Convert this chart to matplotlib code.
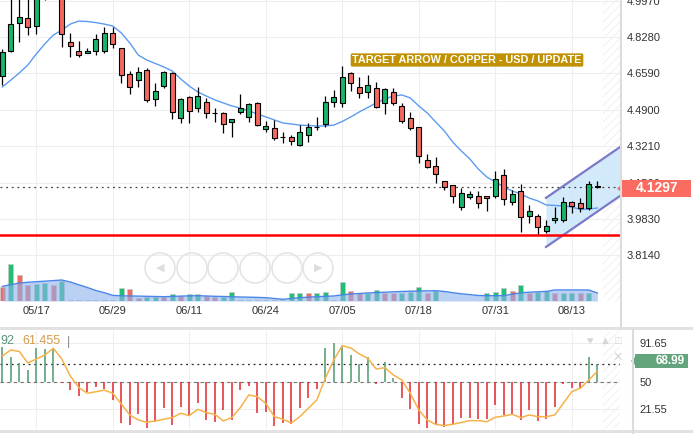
import numpy as np
import matplotlib
matplotlib.use('Agg')
import matplotlib.pyplot as plt
from matplotlib.patches import Rectangle, Ellipse, Polygon
from matplotlib.lines import Line2D

plt.rcParams['font.family'] = ['Liberation Sans', 'DejaVu Sans']
plt.rcParams['hatch.linewidth'] = 0.7

# daily copper bars (USD)
opens = [4.647, 4.763, 4.893, 4.916, 4.879, 5.040, 5.090, 5.040, 4.805, 4.763,
         4.754, 4.763, 4.763, 4.847, 4.777, 4.656, 4.628, 4.675, 4.540, 4.600,
         4.661, 4.452, 4.549, 4.498, 4.526, 4.474, 4.475, 4.433, 4.480, 4.457,
         4.522, 4.401, 4.406, 4.363, 4.364, 4.327, 4.373, 4.409, 4.424, 4.526,
         4.522, 4.661, 4.596, 4.573, 4.591, 4.522, 4.573, 4.508, 4.452, 4.410,
         4.257, 4.229, 4.159, 4.141, 4.039, 4.085, 4.090, 4.090, 4.090, 4.187,
         4.062, 4.113, 3.997, 3.997, 3.927, 3.978, 3.978, 4.062, 4.057, 4.034,
         4.138]
highs = [4.772, 5.020, 5.030, 5.020, 5.060, 5.120, 5.130, 5.070, 4.847, 4.809,
         4.777, 4.842, 4.874, 4.874, 4.779, 4.670, 4.689, 4.684, 4.614, 4.670,
         4.666, 4.545, 4.554, 4.596, 4.545, 4.498, 4.480, 4.449, 4.563, 4.522,
         4.524, 4.438, 4.443, 4.387, 4.373, 4.419, 4.429, 4.457, 4.554, 4.582,
         4.693, 4.666, 4.642, 4.652, 4.619, 4.591, 4.591, 4.522, 4.480, 4.412,
         4.285, 4.271, 4.161, 4.143, 4.127, 4.113, 4.113, 4.092, 4.206, 4.215,
         4.118, 4.146, 4.048, 4.006, 3.978, 4.039, 4.085, 4.067, 4.081, 4.159,
         4.159]
lows = [4.605, 4.758, 4.805, 4.837, 4.842, 4.998, 5.030, 4.782, 4.735, 4.735,
        4.752, 4.744, 4.754, 4.777, 4.614, 4.563, 4.596, 4.526, 4.508, 4.591,
        4.447, 4.429, 4.429, 4.480, 4.452, 4.433, 4.382, 4.364, 4.471, 4.433,
        4.415, 4.387, 4.350, 4.336, 4.327, 4.322, 4.341, 4.396, 4.410, 4.503,
        4.503, 4.577, 4.545, 4.545, 4.498, 4.471, 4.512, 4.429, 4.396, 4.243,
        4.222, 4.150, 4.118, 4.057, 4.025, 4.076, 4.034, 4.020, 4.081, 4.048,
        4.048, 3.923, 3.964, 3.913, 3.918, 3.964, 3.969, 4.011, 4.016, 4.025,
        4.127]
closes = [4.758, 4.888, 4.921, 4.874, 5.020, 5.090, 5.060, 4.842, 4.786, 4.744,
          4.763, 4.819, 4.847, 4.795, 4.652, 4.596, 4.666, 4.536, 4.577, 4.666,
          4.480, 4.540, 4.484, 4.554, 4.475, 4.476, 4.424, 4.447, 4.498, 4.517,
          4.419, 4.415, 4.359, 4.365, 4.345, 4.387, 4.410, 4.411, 4.526, 4.549,
          4.642, 4.614, 4.568, 4.605, 4.503, 4.587, 4.522, 4.438, 4.406, 4.276,
          4.224, 4.192, 4.132, 4.090, 4.104, 4.099, 4.057, 4.081, 4.169, 4.076,
          4.099, 3.992, 4.020, 3.946, 3.951, 3.988, 4.062, 4.043, 4.034, 4.146,
          4.1297]
ma_line = [4.596, 4.628, 4.661, 4.698, 4.749, 4.796, 4.837, 4.860, 4.888, 4.902,
           4.900, 4.895, 4.888, 4.879, 4.847, 4.800, 4.744, 4.721, 4.705, 4.689,
           4.670, 4.633, 4.600, 4.573, 4.554, 4.536, 4.522, 4.508, 4.498, 4.484,
           4.471, 4.457, 4.443, 4.429, 4.424, 4.419, 4.417, 4.415, 4.415, 4.419,
           4.436, 4.457, 4.480, 4.501, 4.522, 4.540, 4.554, 4.559, 4.545, 4.508,
           4.475, 4.433, 4.392, 4.340, 4.299, 4.262, 4.215, 4.178, 4.155, 4.132,
           4.113, 4.099, 4.080, 4.067, 4.048, 4.046, 4.043, 4.039, 4.027, 4.029,
           4.034]

volume = [14.3, 37, 26, 16, 16.7, 17.7, 16, 20, 1, 1,
          0.8, 0.8, 0.8, 0.8, 12.7, 11.7, 2.7, 4.3, 4.3, 3.7,
          6.7, 5, 6.7, 6.7, 5.3, 4.3, 4.3, 8.7, 0.6, 0.6,
          0.6, 0.6, 0.6, 0.6, 7.7, 7.7, 7.7, 7.7, 9.3, 0.6,
          18.7, 10.3, 7.7, 8.3, 11, 8.3, 8.3, 8.3, 9.3, 13.7,
          8.3, 10.3, 0.5, 0.5, 0.5, 0.5, 0.5, 8.3, 9.3, 12.7,
          10.3, 16, 8.3, 9.3, 10.3, 7.7, 7.7, 8.3, 7.7, 8.3,
          0.5]
volume_up = [0, 1, 0, 0, 1, 1, 0, 1, 0, 0,
             1, 1, 1, 0, 1, 0, 0, 1, 1, 0,
             1, 0, 1, 1, 0, 0, 1, 1, 1, 1,
             0, 1, 0, 1, 1, 1, 0, 1, 1, 1,
             1, 0, 0, 1, 1, 0, 0, 1, 1, 1,
             0, 1, 0, 0, 1, 1, 0, 1, 1, 1,
             0, 1, 0, 1, 1, 0, 1, 1, 0, 1,
             0]
volume_ma = [14.6, 16.3, 18, 18.7, 19.3, 19.8, 20.4, 21, 19, 16.2,
             13.5, 10.5, 8.3, 5.6, 5.2, 5, 4.9, 4.7, 4.5, 4.3,
             4.6, 4.9, 5.1, 5.3, 5, 4.7, 4.5, 4.3, 4, 3.8,
             3.6, 3.3, 2.5, 1.7, 2.5, 3.3, 3.8, 4.3, 4.7, 5,
             6.2, 7, 7.5, 8, 8.4, 8.8, 9.2, 9.5, 9.8, 10,
             10.1, 10.3, 9.5, 8.3, 7.2, 6.4, 5.5, 5.3, 5.3, 5.3,
             6.8, 8.2, 8.8, 9.2, 9.6, 11, 11, 11, 11, 11,
             8]

osc_hist = [87.6, 77, 70, 63, 86.5, 85.1, 86.5, 49.5, 41.9, 35.9,
            40.1, 44.7, 42.6, 31.3, 6.7, 5, 16.2, 1.5, 8.4, 22.6,
            5, 24.3, 14.8, 27.8, 10.2, 8.4, 20.8, 10.2, 41.9, 46.4,
            17.3, 18.3, 4.2, 7.4, 5.7, 23.2, 33.8, 42.9, 85.9, 91.65,
            88.5, 78.8, 69, 76.4, 47.9, 71.7, 54.2, 33.8, 21.8, 5.7,
            1.5, 5.7, 3.2, 5.7, 12, 12, 11, 11.3, 26.1, 15.5,
            16.2, 10.2, 20.8, 9.2, 11, 24.3, 47.9, 43.7, 44.3, 76.4,
            68.99]
osc_line = [77.7, 84.1, 82.5, 70.4, 74.6, 78.8, 85.9, 74.6, 56.6, 44.5,
            38.4, 40, 41.7, 38.4, 27.1, 15.5, 10.2, 7.8, 9.2, 11,
            12.7, 17.3, 14.8, 21.5, 18, 16.2, 9.2, 12.7, 23.2, 36.6,
            34.8, 27.8, 13.7, 11, 7.1, 13.7, 22.6, 31.3, 54.2, 73.5,
            88.6, 86.2, 79.9, 75.3, 64, 65.4, 57.7, 52.4, 38.4, 20.8,
            10.2, 5.5, 4.3, 5.7, 7.6, 9.5, 9.5, 8.4, 13.1, 14.4,
            16.2, 12.7, 15.5, 13.7, 13.7, 15.5, 27.8, 40.1, 43.7, 52.4,
            61.455]

date_pos = [4, 13, 22, 31, 40, 49, 58, 67]
date_labels = ['05/17', '05/29', '06/11', '06/24', '07/05', '07/18', '07/31', '08/13']
price_ticks = [3.814, 3.983, 4.152, 4.321, 4.490, 4.659, 4.828, 4.997]
osc_ticks = [21.55, 50, 91.65]
last_price = 4.1297
support = 3.910
last_osc = 68.99
channel_x = [63.96, 72.67]
channel_top = [4.081, 4.317]
channel_bottom = [3.853, 4.090]
title = 'TARGET ARROW / COPPER - USD / UPDATE'

W, H = 693, 437


def fx(px):
    return px / W


def fy(py):
    return 1 - py / H


fig = plt.figure(figsize=(W / 100, H / 100), dpi=100)
fig.patch.set_facecolor('white')

ax = fig.add_axes([0, fy(301), fx(620), 301 / H])
axv = ax.twinx()
axo = fig.add_axes([0, fy(429), fx(620), 98 / H])

x = np.arange(len(closes))
xmin, xmax = -0.27, 72.67
o = np.array(opens)
c = np.array(closes)

# main price pane
ax.set_xlim(xmin, xmax)
ax.set_ylim(3.6023, 4.9998)
ax.yaxis.tick_right()
ax.set_yticks(price_ticks)
ax.set_yticklabels(['%.4f' % t for t in price_ticks])
ax.tick_params(axis='y', length=0, pad=5, labelsize=8, labelcolor='#333333')
ax.set_xticks(date_pos)
ax.set_xticklabels(date_labels)
ax.tick_params(axis='x', length=0, pad=3.5, labelsize=8, labelcolor='#333333')
ax.grid(color='#eeeeee', lw=0.8)
ax.set_axisbelow(True)
for s in ax.spines.values():
    s.set_visible(False)

ax.axvspan(70.7, xmax, facecolor='none', edgecolor='#f0f0f0', hatch='////', lw=0, zorder=0.5)
ax.fill_between(channel_x, channel_bottom, channel_top, color='#cde8fa', alpha=0.9, lw=0, zorder=1)
ax.plot(channel_x, channel_top, color='#7b79c8', lw=1.6, zorder=2)
ax.plot(channel_x, channel_bottom, color='#7b79c8', lw=1.6, zorder=2)
ax.axhline(last_price, color='#444444', lw=0.9, ls=(0, (1.5, 3)), zorder=2)
ax.axhline(support, color='#ff0000', lw=1.8, zorder=2)
ax.plot(x, ma_line, color='#5b9cf2', lw=1, zorder=2.5)

colors = np.where(c >= o, '#18b46b', '#f4685e')
ax.vlines(x, lows, highs, color='black', lw=0.9, zorder=3)
body_h = np.maximum(np.abs(c - o), 0.002)
ax.bar(x, body_h, bottom=np.minimum(o, c), width=0.6, color=colors,
       edgecolor='black', linewidth=0.8, zorder=4)

# volume
vcol = ['#1fbf74' if u else '#f26a61' for u in volume_up]
axv.bar(x, volume, width=0.6, color=vcol, edgecolor='#c8c8c8', linewidth=0.5)
axv.fill_between(x, 0, volume_ma, color='#8db3ee', alpha=0.6, lw=0)
axv.plot(x, volume_ma, color='#4a86e8', lw=1)
axv.set_ylim(0, 301)
axv.axis('off')

# oscillator pane
axo.set_xlim(xmin, xmax)
axo.set_ylim(0.7, 104.1)
hist = np.array(osc_hist)
hcol = np.where(hist >= 50, '#4f9a6c', '#e3262b')
axo.axvspan(70.7, xmax, facecolor='none', edgecolor='#f0f0f0', hatch='////', lw=0, zorder=0.5)
axo.vlines(x, 50, hist, colors=hcol, lw=1.1, zorder=2)
axo.plot(x, osc_line, color='#f7b24a', lw=1.1, zorder=3)
axo.axhline(50, color='#777777', lw=0.8, ls=(0, (3, 3)), zorder=1)
axo.axhline(last_osc, color='#222222', lw=0.9, ls=(0, (1.5, 3)), zorder=1)
axo.yaxis.tick_right()
axo.set_yticks(osc_ticks)
axo.set_yticklabels(['91.65' if t == 91.65 else '%g' % t for t in osc_ticks])
axo.tick_params(axis='y', length=0, pad=14, labelsize=8, labelcolor='#333333')
axo.set_xticks(date_pos)
axo.set_xticklabels([])
axo.tick_params(axis='x', length=0)
axo.grid(color='#eeeeee', lw=0.8)
axo.set_axisbelow(True)
for s in axo.spines.values():
    s.set_visible(False)

# frame lines
fig.add_artist(Rectangle((0, fy(330)), 1, 3 / H, transform=fig.transFigure, color='#e2e2e2', lw=0))
fig.add_artist(Rectangle((0, fy(433)), 1, 3 / H, transform=fig.transFigure, color='#e2e2e2', lw=0))
fig.add_artist(Line2D([fx(620.5)] * 2, [fy(0), fy(328)], color='#dcdcdc', lw=1.5))
fig.add_artist(Line2D([fx(632.5)] * 2, [fy(330), fy(433)], color='#dcdcdc', lw=1.5))

# navigation buttons
for cx in [160, 192, 223, 255, 287, 318]:
    fig.add_artist(Ellipse((fx(cx), fy(268)), 30 / W, 30 / H, transform=fig.transFigure,
                           fill=False, ec='#e4e4e4', lw=1.2))
fig.text(fx(160), fy(268), '\u25c0', color='#dddddd', fontsize=8, ha='center', va='center')
fig.text(fx(318), fy(268), '\u25b6', color='#dddddd', fontsize=8, ha='center', va='center')

# labels
fig.text(fx(467), fy(60), title, color='white', fontsize=7.8, fontweight='bold',
         ha='center', va='center',
         bbox=dict(boxstyle='round,pad=0.15', fc='#c09100', ec='none'))

fig.add_artist(Polygon([(fx(617), fy(188.5)), (fx(622), fy(184)), (fx(622), fy(193))],
                       closed=True, transform=fig.transFigure, color='#fa6c61', lw=0))
fig.add_artist(Rectangle((fx(622), fy(197)), 69 / W, 17 / H, transform=fig.transFigure,
                         color='#fa6c61', lw=0))
fig.text(fx(657), fy(188.5), '%.4f' % last_price, color='white', fontsize=10,
         fontweight='bold', ha='center', va='center')

fig.add_artist(Polygon([(fx(631), fy(361)), (fx(635), fy(357)), (fx(635), fy(365))],
                       closed=True, transform=fig.transFigure, color='#63a47c', lw=0))
fig.add_artist(Rectangle((fx(635), fy(368)), 53 / W, 14 / H, transform=fig.transFigure,
                         color='#63a47c', lw=0))
fig.text(fx(685), fy(361), '%.2f' % last_osc, color='white', fontsize=8.5,
         fontweight='bold', ha='right', va='center')

fig.text(fx(0), fy(341.5), '92', color='#5c9479', fontsize=9, va='center')
fig.text(fx(22), fy(341.5), '61.455', color='#d49b4c', fontsize=9, va='center')
fig.text(fx(67), fy(341.5), '|', color='#888888', fontsize=9, va='center')

for gx, g in [(590, '\u2665'), (605, '\u25b2'), (618, '\u25a1')]:
    fig.text(fx(gx), fy(341), g, color='#d6d6d6', fontsize=8, ha='center', va='center')
fig.text(fx(618), fy(358), '\u2715', color='#d6d6d6', fontsize=9, ha='center', va='center')

fig.savefig('out.png', dpi=100)
